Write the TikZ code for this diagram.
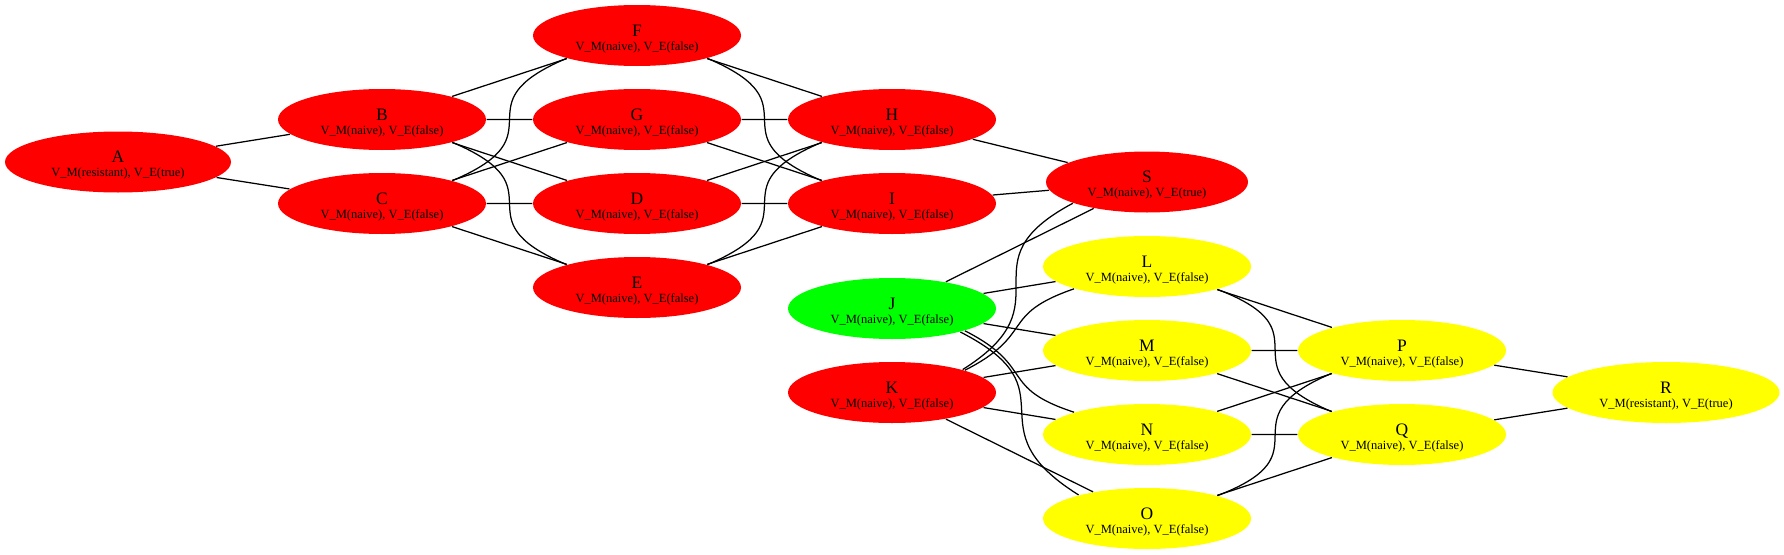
\documentclass[tikz,border=0pt]{standalone}
\usepackage{fontspec}
\setmainfont{Liberation Serif}
\usetikzlibrary{shapes.geometric}

% letter on top, state line below
\newcommand{\vstatetext}[3]{\rule{0pt}{17.7pt}{\fontsize{17.5}{14}\selectfont #1}\\V\_M(#2), V\_E(#3)}

\begin{document}
\begin{tikzpicture}[x=1pt, y=1pt, line width=1.25pt,
  vstate/.style={ellipse, minimum width=208pt, minimum height=61pt, inner sep=0pt,
    align=center, font=\fontsize{12.5}{14}\selectfont},
  longlink/.style={looseness=1.85},
  halflink/.style={looseness=1.5}]

  % Colors
  \definecolor{nodered}{RGB}{255,0,0}
  \definecolor{nodegreen}{RGB}{0,255,0}
  \definecolor{nodeyellow}{RGB}{255,255,0}

  \useasboundingbox (0,0) rectangle (1784,-554);

  % Red block
  \node[vstate, fill=nodered, minimum width=226pt] (A) at (118,-162) {\vstatetext{A}{resistant}{true}};
  \node[vstate, fill=nodered] (B) at (382,-119.5) {\vstatetext{B}{naive}{false}};
  \node[vstate, fill=nodered] (C) at (382,-203.5) {\vstatetext{C}{naive}{false}};
  \node[vstate, fill=nodered] (F) at (637,-35.5) {\vstatetext{F}{naive}{false}};
  \node[vstate, fill=nodered] (G) at (637,-119.5) {\vstatetext{G}{naive}{false}};
  \node[vstate, fill=nodered] (D) at (637,-203.5) {\vstatetext{D}{naive}{false}};
  \node[vstate, fill=nodered] (E) at (637,-287.5) {\vstatetext{E}{naive}{false}};
  \node[vstate, fill=nodered] (H) at (892,-119.5) {\vstatetext{H}{naive}{false}};
  \node[vstate, fill=nodered] (I) at (892,-203.5) {\vstatetext{I}{naive}{false}};
  \node[vstate, fill=nodered, minimum width=202pt] (S) at (1147,-182) {\vstatetext{S}{naive}{true}};

  % J and K
  \node[vstate, fill=nodegreen] (J) at (892,-308.5) {\vstatetext{J}{naive}{false}};
  \node[vstate, fill=nodered] (K) at (892,-392.5) {\vstatetext{K}{naive}{false}};

  % Yellow block
  \node[vstate, fill=nodeyellow] (L) at (1147,-266.5) {\vstatetext{L}{naive}{false}};
  \node[vstate, fill=nodeyellow] (M) at (1147,-350.5) {\vstatetext{M}{naive}{false}};
  \node[vstate, fill=nodeyellow] (N) at (1147,-434.5) {\vstatetext{N}{naive}{false}};
  \node[vstate, fill=nodeyellow] (O) at (1147,-518.5) {\vstatetext{O}{naive}{false}};
  \node[vstate, fill=nodeyellow] (P) at (1402,-350.5) {\vstatetext{P}{naive}{false}};
  \node[vstate, fill=nodeyellow] (Q) at (1402,-434.5) {\vstatetext{Q}{naive}{false}};
  \node[vstate, fill=nodeyellow, minimum width=227pt] (R) at (1666,-392.5) {\vstatetext{R}{resistant}{true}};

  % Straight edges
  \draw (A) -- (B) (A) -- (C);
  \draw (B) -- (F) (B) -- (G) (B) -- (D);
  \draw (C) -- (G) (C) -- (D) (C) -- (E);
  \draw (F) -- (H) (G) -- (H) (G) -- (I);
  \draw (D) -- (H) (D) -- (I) (E) -- (I);
  \draw (H) -- (S) (I) -- (S);
  \draw (J) -- (S) (J) -- (L) (J) -- (M);
  \draw (K) -- (M) (K) -- (N) (K) -- (O);
  \draw (L) -- (P) (M) -- (P) (M) -- (Q);
  \draw (N) -- (P) (N) -- (Q) (O) -- (Q);
  \draw (P) -- (R) (Q) -- (R);

  % Curved edges skipping a row
  \draw (B.-18) to[out=-23, in=157, longlink] (E.162);
  \draw (C.18) to[out=23, in=-157, longlink] (F.-162);
  \draw (F.-18) to[out=-23, in=157, longlink] (I.162);
  \draw (E.18) to[out=23, in=-157, longlink] (H.-162);
  \draw (L.-18) to[out=-21, in=157, longlink] (Q.162);
  \draw (O.18) to[out=21, in=-157, longlink] (P.-162);
  \draw (K.18) to[out=32, in=-152, looseness=1.64] (S.-164);
  \draw (J.-19) to[out=-27, in=148, looseness=1.66] (O.161);
  \draw (K.17) to[out=27, in=-161, halflink] (L.-163);
  \draw (J.-17) to[out=-27, in=162, halflink] (N.163);

\end{tikzpicture}
\end{document}
